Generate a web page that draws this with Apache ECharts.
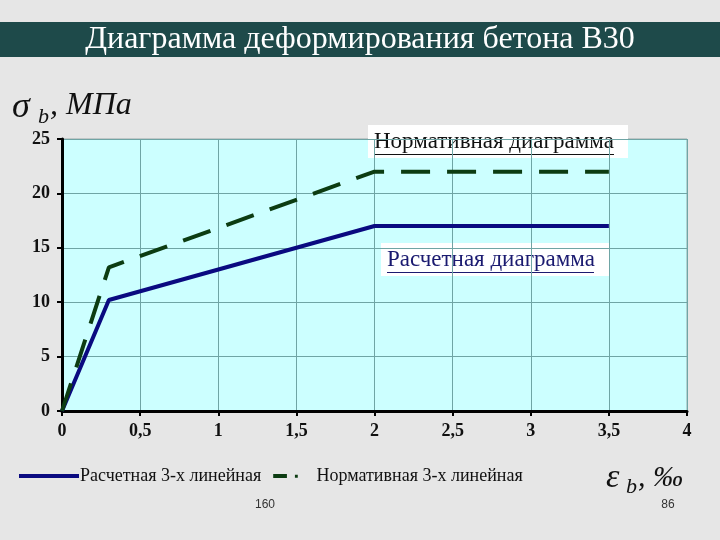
<!DOCTYPE html>
<html><head><meta charset="utf-8">
<script src="https://cdn.jsdelivr.net/npm/echarts@6/dist/echarts.min.js"></script>
<style>html,body{margin:0;padding:0;background:#e6e6e6;}#c{width:720px;height:540px;}</style>
</head><body><div id="c"></div>
<script>
const title = 'Диаграмма деформирования бетона В30';
const seriesNames = ['Расчетная 3-х линейная', 'Нормативная 3-х линейная'];
const strainX = [0, 0.3, 2, 3.5];
const designStress = [0, 10.2, 17, 17];
const normStress = [0, 13.2, 22, 22];
const xTicks = [0, 0.5, 1, 1.5, 2, 2.5, 3, 3.5, 4];
const yTicks = [0, 5, 10, 15, 20, 25];
const labelNorm = 'Нормативная диаграмма';
const labelDesign = 'Расчетная диаграмма';
const pageLeft = '160', pageRight = '86';

const serif = '"Liberation Serif","Times New Roman",serif';
const chart = echarts.init(document.getElementById('c'));
const pair = (xs, ys) => xs.map((x, i) => [x, ys[i]]);

chart.setOption({
  backgroundColor: '#e6e6e6',
  animation: false,
  grid: {left: 62, right: 33, top: 139, bottom: 129, backgroundColor: '#ccffff', show: true, borderColor: '#9aa8a8', borderWidth: 1},
  xAxis: {
    type: 'value', min: 0, max: 4, interval: 0.5,
    axisLine: {lineStyle: {color: '#000', width: 3}},
    axisTick: {show: true, length: 5, lineStyle: {color: '#000', width: 2}},
    axisLabel: {color: '#111', fontFamily: serif, fontWeight: 'bold', fontSize: 18, margin: 11,
      formatter: v => String(v).replace('.', ',')},
    splitLine: {show: true, lineStyle: {color: '#6fa5a5', width: 1}}
  },
  yAxis: {
    type: 'value', min: 0, max: 25, interval: 5,
    axisLine: {show: true, lineStyle: {color: '#000', width: 3}},
    axisTick: {show: true, length: 5, lineStyle: {color: '#000', width: 2}},
    axisLabel: {color: '#111', fontFamily: serif, fontWeight: 'bold', fontSize: 18, margin: 12},
    splitLine: {show: true, lineStyle: {color: '#6fa5a5', width: 1}}
  },
  legend: {
    left: 14, top: 462, itemGap: 12, itemWidth: 60, itemHeight: 4,
    textStyle: {fontFamily: serif, fontSize: 18, color: '#111', padding: [0,0,0,-4]},
    data: [
      {name: seriesNames[0], icon: 'rect'},
      {name: seriesNames[1], icon: 'path://M0,0h24v7h-24z M38,1.5h5v5h-5z'}
    ]
  },
  series: [
    {name: seriesNames[0], type: 'line', data: pair(strainX, designStress), symbol: 'none',
      lineStyle: {color: '#0a0a80', width: 4}, itemStyle: {color: '#0a0a80'}},
    {name: seriesNames[1], type: 'line', data: pair(strainX, normStress), symbol: 'none',
      lineStyle: {color: '#0c3c12', width: 4, type: [29, 17]}, itemStyle: {color: '#0c3c12'}}
  ],
  graphic: [
    {type: 'rect', shape: {x: 0, y: 22, width: 720, height: 35}, style: {fill: '#1e4a4a'}},
    {type: 'text', x: 360, y: 40, style: {text: title, fill: '#fff', font: '32px ' + serif, align: 'center', verticalAlign: 'middle'}},
    {type: 'rect', shape: {x: 368, y: 125, width: 260, height: 33}, style: {fill: '#ffffff'}},
    {type: 'text', x: 374, y: 142, style: {text: labelNorm, fill: '#111', font: '23px ' + serif, verticalAlign: 'middle'}},
    {type: 'rect', shape: {x: 374, y: 154, width: 240, height: 1}, style: {fill: '#111'}},
    {type: 'rect', shape: {x: 381, y: 243, width: 228, height: 33}, style: {fill: '#ffffff'}},
    {type: 'text', x: 387, y: 260, style: {text: labelDesign, fill: '#1a1a70', font: '23px ' + serif, verticalAlign: 'middle'}},
    {type: 'rect', shape: {x: 387, y: 272, width: 207, height: 1}, style: {fill: '#1a1a70'}},
    {type: 'text', x: 12, y: 108, style: {text: 'σ', fill: '#111', font: 'italic 36px ' + serif, verticalAlign: 'middle'}},
    {type: 'text', x: 38, y: 117, style: {text: 'b', fill: '#111', font: 'italic 22px ' + serif, verticalAlign: 'middle'}},
    {type: 'text', x: 50, y: 106, style: {text: ', МПа', fill: '#111', font: 'italic 32px ' + serif, verticalAlign: 'middle'}},
    {type: 'text', x: 606, y: 478, style: {text: 'ε', fill: '#111', font: 'italic 34px ' + serif, verticalAlign: 'middle'}},
    {type: 'text', x: 626, y: 487, style: {text: 'b', fill: '#111', font: 'italic 22px ' + serif, verticalAlign: 'middle'}},
    {type: 'text', x: 638, y: 478, style: {text: ', ‰', fill: '#111', font: 'italic 30px ' + serif, verticalAlign: 'middle'}},
    {type: 'text', x: 265, y: 505, style: {text: pageLeft, fill: '#333', font: '12px "Liberation Sans",Arial,sans-serif', align: 'center', verticalAlign: 'middle'}},
    {type: 'text', x: 668, y: 505, style: {text: pageRight, fill: '#333', font: '12px "Liberation Sans",Arial,sans-serif', align: 'center', verticalAlign: 'middle'}}
  ]
});
</script></body></html>
